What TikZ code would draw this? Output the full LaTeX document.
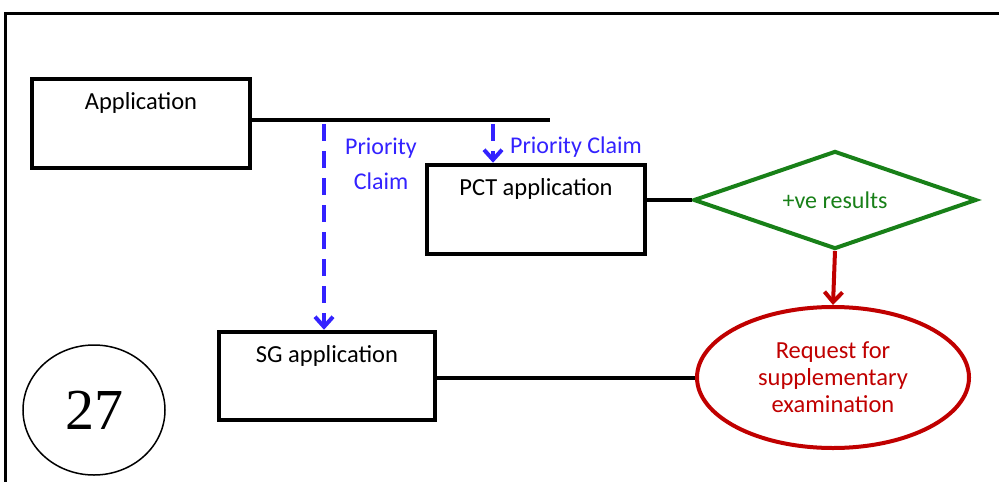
\documentclass[tikz,border=0pt]{standalone}
\usepackage{fontspec}
\setmainfont{Carlito}
\newfontfamily\numserif{Liberation Serif}
\usetikzlibrary{shapes.geometric,arrows.meta,calc}
\definecolor{cblue}{RGB}{51,34,255}
\definecolor{cgreen}{RGB}{24,128,24}
\definecolor{cred}{RGB}{192,0,0}
\tikzset{
  appbox/.style={draw=black, line width=4.5pt, rectangle, minimum width=218pt, minimum height=89pt, inner sep=0pt},
  boxlabel/.style={font=\fontsize{24.5}{27}\selectfont, anchor=center},
  claimline/.style={draw=cblue, line width=4pt, dash pattern=on 17pt off 10pt, -{Straight Barb[length=10pt,width=18pt]}},
  claimtext/.style={text=cblue, font=\fontsize{24}{35}\selectfont, align=center},
  plainline/.style={draw=black, line width=4pt},
  decision/.style={diamond, draw=cgreen, line width=4pt, aspect=2.9, minimum width=283pt, minimum height=98pt, inner sep=0pt, text=cgreen, font=\fontsize{24}{27}\selectfont},
  result/.style={ellipse, draw=cred, line width=4pt, minimum width=272pt, minimum height=141pt, inner sep=0pt, text=cred, align=center, font=\fontsize{24.5}{27}\selectfont},
  redarrow/.style={draw=cred, line width=4pt, -{Straight Barb[length=10pt,width=18pt]}},
  badge/.style={ellipse, draw=black, line width=1.5pt, minimum width=142pt, minimum height=130pt, inner sep=0pt, font=\numserif\fontsize{58}{60}\selectfont}
}
\begin{document}
\begin{tikzpicture}[x=1pt, y=-1pt]
\useasboundingbox (0,0) rectangle (999,482);
% frame
\draw[line width=3pt] (5,482) -- (5,13) -- (999,13);
% boxes
\node[appbox, label={[boxlabel, yshift=-26pt]north:Application}] (app) at (141,123.5) {};
\node[appbox, label={[boxlabel, yshift=-26pt]north:PCT application}] (pct) at (536,209.5) {};
\node[appbox, minimum width=216pt, minimum height=88pt, label={[boxlabel, yshift=-26pt]north:SG application}] (sg) at (327,376) {};
% bus line
\coordinate (busend) at (550,120);
\draw[plainline] (app.east |- busend) -- (busend);
\coordinate (tap1) at (324,120);
\coordinate (tap2) at (493,120);
\draw[claimline] ($(tap1)+(0,4)$) -- (tap1 |- sg.north);
\draw[claimline] ($(tap2)+(0,4)$) -- (tap2 |- pct.north);
\node[claimtext] (pc1) at (381,164) {Priority\\Claim};
\node[claimtext] (pc2) at (576,147) {Priority Claim};
% decision
\node[decision] (dia) at (835,200) {+ve results};
\draw[plainline] (pct.east |- dia.west) -- (dia.west);
% result
\node[result] (ell) at (833,377.5) {Request for\\supplementary\\examination};
\draw[redarrow] (dia.south) -- (ell.north);
\draw[plainline] (sg.east |- ell.west) -- (ell.west);
% badge
\node[badge] (num) at (94,410) {27};
\end{tikzpicture}
\end{document}
